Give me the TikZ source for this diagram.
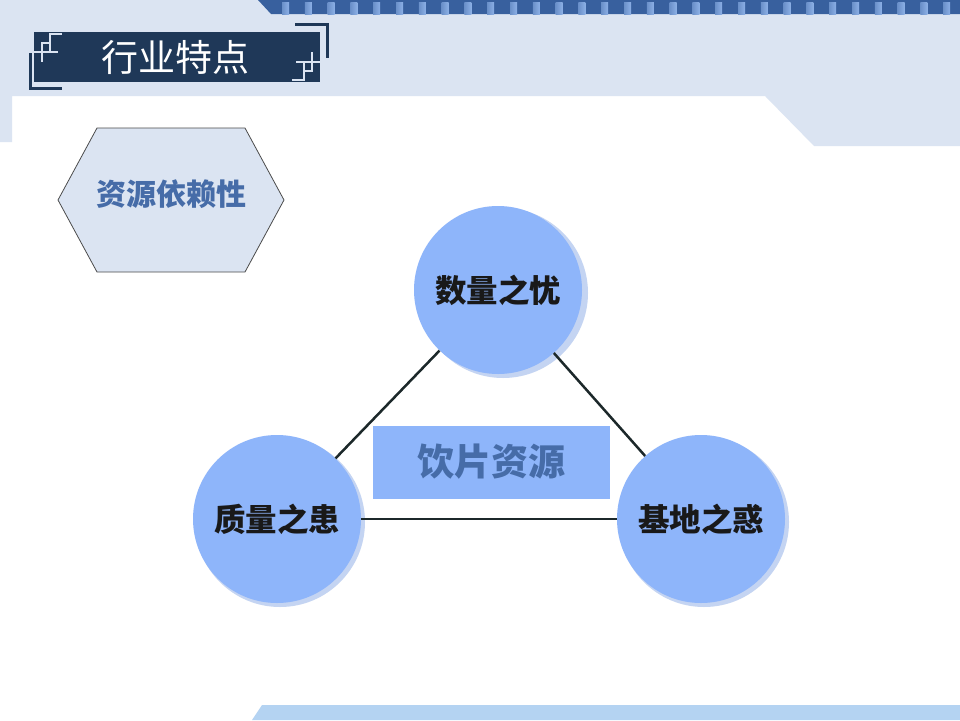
\documentclass[tikz,border=0pt]{standalone}
\usepackage{fontspec}
\newfontfamily\cjk{Noto Sans CJK SC}
\usetikzlibrary{shapes.geometric}
\definecolor{paleblue}{RGB}{219,228,242}
\definecolor{bandblue}{RGB}{56,96,158}
\definecolor{barblue}{RGB}{140,176,230}
\definecolor{navy}{RGB}{31,56,88}
\definecolor{ballblue}{RGB}{142,181,250}
\definecolor{ballshade}{RGB}{196,212,242}
\definecolor{labelblue}{RGB}{70,108,168}
\definecolor{footblue}{RGB}{180,211,242}
\definecolor{linkgray}{RGB}{28,40,42}

\tikzset{
  ball/.style={circle,fill=ballblue,minimum size=168pt,inner sep=0pt,
    font=\cjk\bfseries\fontsize{31.5}{32}\selectfont,text=black!90},
  link/.style={draw=linkgray,line width=2.5pt},
}

\begin{document}
\begin{tikzpicture}[x=1pt,y=-1pt]
\useasboundingbox (0,0) rectangle (960,720);
% backdrop
\fill[white] (0,0) rectangle (960,720);
\fill[paleblue] (0,0) -- (960,0) -- (960,146) -- (814,146) -- (765,96)
    -- (12,96) -- (12,142) -- (0,142) -- cycle;
\fill[bandblue] (258,0) -- (960,0) -- (960,14) -- (271,14) -- cycle;
\foreach \x in {282,304.8,...,960}
    \shade[left color=barblue!60!bandblue,right color=barblue] (\x,2) rectangle ++(7,12);
\fill[footblue] (262,705) -- (960,705) -- (960,720) -- (252,720) -- cycle;

% title
\fill[navy] (34,32) rectangle (320,82);
\draw[navy,line width=3pt] (30,53) -- (30,88) -- (62,88);
\draw[navy,line width=3pt] (295,24) -- (327,24) -- (327,58);
\draw[paleblue,line width=2.2pt] (34,52) -- (42,52) -- (42,43) -- (50,43) -- (50,34) -- (62,34)
    (42,43) -- (42,62) (50,34) -- (50,52) (42,52) -- (58,52);
\draw[paleblue,line width=2.2pt] (320,62) -- (312,62) -- (312,71) -- (304,71) -- (304,80) -- (292,80)
    (312,71) -- (312,52) (304,80) -- (304,62) (312,62) -- (296,62);
\node (title) at (175,57) {\cjk\fontsize{37}{37}\selectfont\color{white}行业特点};

% hexagon
\draw[fill=paleblue,draw=black!70,line width=0.8pt] (58,200) -- (97,128) -- (245,128)
    -- (284,200) -- (245,272) -- (97,272) -- cycle;
\node (dep) at (171,194) {\cjk\bfseries\fontsize{30}{30}\selectfont\color{labelblue}资源依赖性};

% balls with shading
\fill[ballshade] (503,293) circle (85);
\fill[ballshade] (280,522) circle (85);
\fill[ballshade] (704,522) circle (85);
\node[ball] (qty) at (498,290) {数量之忧};
\node[ball] (qual) at (277,519) {质量之患};
\node[ball] (base) at (701,519) {基地之惑};

\path[link] (qty) -- (qual);
\path[link] (qty) -- (base);
\path[link] (qual) -- (base);

\node[fill=ballblue,minimum width=237pt,minimum height=73pt,inner sep=0pt] (res) at (491,462)
    {\cjk\bfseries\fontsize{37}{37}\selectfont\color{labelblue}饮片资源};
\end{tikzpicture}
\end{document}
